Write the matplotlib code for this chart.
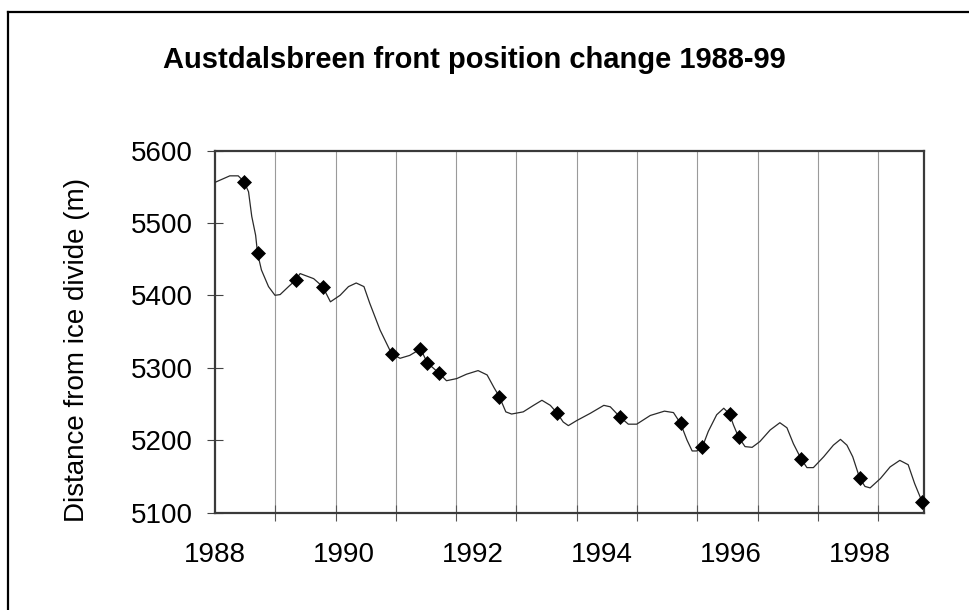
import matplotlib
matplotlib.use("Agg")
import matplotlib.pyplot as plt
from matplotlib.ticker import FixedLocator
from matplotlib.lines import Line2D
import numpy as np

plt.rcParams['font.family'] = ['Liberation Sans', 'DejaVu Sans']

# ---- data ----
title = "Austdalsbreen front position change 1988-99"
y_label = "Distance from ice divide (m)"

survey_year = [1988.45, 1988.66, 1989.25, 1989.67, 1990.74, 1991.18, 1991.29,
               1991.48, 1992.41, 1993.30, 1994.28, 1995.22, 1995.56, 1995.98,
               1996.12, 1997.09, 1998.00, 1998.97]
survey_dist = [5557, 5458, 5421, 5412, 5319, 5326, 5307,
               5292, 5260, 5238, 5232, 5223, 5191, 5236,
               5204, 5174, 5147, 5114]

curve_year = [1988.00, 1988.23, 1988.36, 1988.45, 1988.52, 1988.57, 1988.63, 1988.66,
              1988.72, 1988.83, 1988.93, 1989.01, 1989.14, 1989.25, 1989.32, 1989.53,
              1989.67, 1989.79, 1989.94, 1990.07, 1990.19, 1990.31, 1990.40, 1990.56,
              1990.74, 1990.87, 1991.02, 1991.19, 1991.29, 1991.48, 1991.59, 1991.75,
              1991.90, 1992.08, 1992.22, 1992.33, 1992.41, 1992.51, 1992.60, 1992.78,
              1992.94, 1993.07, 1993.20, 1993.30, 1993.40, 1993.48, 1993.61, 1993.82,
              1994.03, 1994.13, 1994.28, 1994.41, 1994.54, 1994.75, 1994.97, 1995.11,
              1995.22, 1995.32, 1995.40, 1995.47, 1995.56, 1995.65, 1995.78, 1995.89,
              1995.98, 1996.04, 1996.12, 1996.22, 1996.33, 1996.45, 1996.61, 1996.76,
              1996.87, 1996.97, 1997.09, 1997.18, 1997.28, 1997.44, 1997.59, 1997.70,
              1997.80, 1997.89, 1998.00, 1998.08, 1998.16, 1998.32, 1998.47, 1998.62,
              1998.75, 1998.85, 1998.97]
curve_dist = [5556, 5565, 5565, 5557, 5543, 5509, 5483, 5458,
              5435, 5412, 5400, 5401, 5412, 5421, 5430, 5423,
              5412, 5391, 5400, 5412, 5417, 5412, 5389, 5352,
              5319, 5313, 5317, 5326, 5307, 5292, 5282, 5285,
              5291, 5296, 5290, 5272, 5260, 5239, 5236, 5239,
              5248, 5255, 5248, 5238, 5225, 5220, 5227, 5237,
              5248, 5246, 5232, 5222, 5222, 5234, 5240, 5238,
              5223, 5200, 5185, 5185, 5191, 5212, 5235, 5244,
              5236, 5221, 5204, 5191, 5190, 5198, 5214, 5224,
              5217, 5195, 5174, 5162, 5162, 5177, 5193, 5201,
              5193, 5177, 5147, 5136, 5134, 5147, 5163, 5172,
              5166, 5140, 5114]

x_label_years = [1988, 1990, 1992, 1994, 1996, 1998]
y_ticks = [5100, 5200, 5300, 5400, 5500, 5600]
x_min, x_max = 1988.0, 1999.0
y_min, y_max = 5100, 5600
grid_step = 0.935

# ---- figure ----
W, H = 970, 610
fig = plt.figure(figsize=(W / 100, H / 100), dpi=100)
fig.patch.set_facecolor('white')

# outer chart border (left and top edges visible in the scan)
fig.add_artist(Line2D([8 / W, 8 / W], [0, 1 - 12 / H], transform=fig.transFigure,
                      color='black', lw=1.6))
fig.add_artist(Line2D([8 / W, 1], [1 - 12 / H, 1 - 12 / H], transform=fig.transFigure,
                      color='black', lw=1.6))

ax = fig.add_axes([215 / W, 1 - 512.5 / H, (924.3 - 215) / W, (512.5 - 150.5) / H])
ax.set_xlim(x_min, x_max)
ax.set_ylim(y_min, y_max)

ax.plot(curve_year, curve_dist, color='#2a2a2a', lw=0.9, zorder=3,
        solid_joinstyle='round')
ax.plot(survey_year, survey_dist, linestyle='none', marker='D', ms=7.3,
        color='black', mec='black', mew=0.5, zorder=4, clip_on=False)

# x axis: labels every 2 years (no tick), ticks/gridlines at grid_step
ax.xaxis.set_major_locator(FixedLocator(x_label_years))
ax.set_xticklabels([str(v) for v in x_label_years])
grid_pos = list(np.arange(x_min + grid_step, x_max - 0.01, grid_step))
ax.xaxis.set_minor_locator(FixedLocator(grid_pos))
ax.tick_params(axis='x', which='major', length=0, pad=21, labelsize=20)
ax.tick_params(axis='x', which='minor', direction='inout', length=12, width=0.8,
               color='#555555')
ax.grid(True, axis='x', which='minor', color='#9a9a9a', lw=0.8)
ax.grid(False, axis='x', which='major')

ax.yaxis.set_major_locator(FixedLocator(y_ticks))
ax.set_yticklabels([str(v) for v in y_ticks])
ax.tick_params(axis='y', which='major', direction='inout', length=12, width=0.8,
               color='#444444', pad=10, labelsize=20)

for side in ['left', 'bottom', 'top', 'right']:
    ax.spines[side].set_color('#3a3a3a')
    ax.spines[side].set_linewidth(1.6)

fig.text(474 / W, 1 - 68 / H, title, ha='center', va='baseline',
         fontsize=21, fontweight='bold')
fig.text(77 / W, 1 - 350 / H, y_label, ha='center', va='center', rotation=90,
         fontsize=20)

fig.savefig('out.png', dpi=100, facecolor='white')
